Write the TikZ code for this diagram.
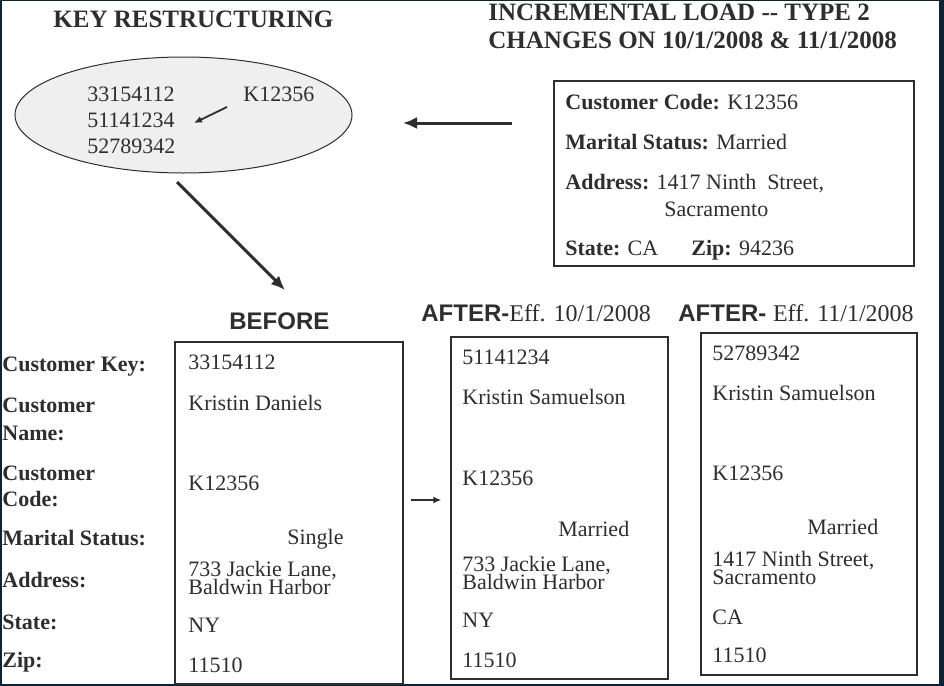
\documentclass[tikz,border=0pt]{standalone}
\usepackage{fontspec}
\setmainfont{Liberation Serif}
\setsansfont{Liberation Sans}
\usetikzlibrary{shapes.geometric,arrows.meta}
\definecolor{frameblue}{HTML}{0E2236}
\definecolor{inkgray}{HTML}{2E2E2E}
\definecolor{ovalgray}{HTML}{EFEFEF}

\begin{document}
\begin{tikzpicture}[x=0.5pt,y=-0.5pt,
  every node/.style={inner sep=0pt, text=inkgray, font=\fontsize{11}{13.5}\selectfont},
  val/.style={anchor=base west},
  lbl/.style={anchor=base west, font=\fontsize{11}{13.5}\selectfont\bfseries},
  headtitle/.style={anchor=base west, font=\fontsize{12.5}{14}\selectfont\bfseries},
  headsans/.style={anchor=base west, font=\fontsize{12}{14}\selectfont\sffamily\bfseries},
  recbox/.style={rectangle, draw=inkgray, line width=0.6pt},
  fatarrow/.style={draw=inkgray, line width=1.5pt, -{Latex[length=7pt,width=6pt]}},
  thinarrow/.style={draw=inkgray, line width=0.9pt, -{Latex[length=4pt,width=3.5pt]}}]

  \useasboundingbox (0,0) rectangle (944,686);
  \fill[frameblue] (0,0) rectangle (944,686);
  \fill[white] (2,1) rectangle (939,684);

  % top left: key restructuring
  \node[headtitle] (keyTitle) at (53,27) {KEY RESTRUCTURING};
  \node[ellipse, draw=inkgray, fill=ovalgray, line width=0.5pt, minimum width=168.5pt, minimum height=58pt] (keyOval) at (183.5,115) {};
  \node[val] (keyOne)   at (87,101)  {33154112};
  \node[val] (keyTwo)   at (87,127)  {51141234};
  \node[val] (keyThree) at (87,153)  {52789342};
  \node[val] (keyCode)  at (243,101) {K12356};
  \coordinate (codeTail) at (227,107);
  \coordinate (codeTip)  at (194,123);
  \draw[thinarrow] (codeTail) -- (codeTip);

  % top right: incremental load
  \node[headtitle] (incrTitleA) at (488,20) {INCREMENTAL LOAD -{}- TYPE 2};
  \node[headtitle] (incrTitleB) at (488,48) {CHANGES ON 10/1/2008 \& 11/1/2008};
  \node[recbox, minimum width=180pt, minimum height=92.5pt] (incrBox) at (734,173.5) {};
  \node[val] (incrCode)    at (565,109) {\textbf{Customer Code:} K12356};
  \node[val] (incrStatus)  at (565,149) {\textbf{Marital Status:} Married};
  \node[val] (incrAddrA)   at (565,189) {\textbf{Address:} 1417 Ninth~ Street,};
  \node[val] (incrAddrB)   at (664,216) {Sacramento};
  \node[val] (incrState)   at (565,255) {\textbf{State:} CA};
  \node[val] (incrZip)     at (691,255) {\textbf{Zip:} 94236};

  \coordinate (loadTail) at (512,123);
  \coordinate (loadTip)  at (403,123);
  \draw[fatarrow] (loadTail) -- (loadTip);
  \coordinate (ovalTail) at (177,182);
  \coordinate (beforeTip) at (285,290);
  \draw[fatarrow] (ovalTail) -- (beforeTip);

  % row labels
  \node[lbl] (rowKey)     at (2,371) {Customer Key:};
  \node[lbl] (rowNameA)   at (2,412) {Customer};
  \node[lbl] (rowNameB)   at (2,440) {Name:};
  \node[lbl] (rowCodeA)   at (2,480) {Customer};
  \node[lbl] (rowCodeB)   at (2,506) {Code:};
  \node[lbl] (rowStatus)  at (2,545) {Marital Status:};
  \node[lbl] (rowAddr)    at (2,587) {Address:};
  \node[lbl] (rowState)   at (2,629) {State:};
  \node[lbl] (rowZip)     at (2,667) {Zip:};

  % before
  \node[headsans] (beforeHead) at (229,329) {BEFORE};
  \node[recbox, minimum width=114pt, minimum height=171pt] (beforeBox) at (289,513) {};
  \node[val] (beforeKey)    at (188,369) {33154112};
  \node[val] (beforeName)   at (188,410) {Kristin Daniels};
  \node[val] (beforeCode)   at (188,490) {K12356};
  \node[val] (beforeStatus) at (287,544) {Single};
  \node[val] (beforeAddrA)  at (188,576) {733 Jackie Lane,};
  \node[val] (beforeAddrB)  at (188,594) {Baldwin Harbor};
  \node[val] (beforeState)  at (188,632) {NY};
  \node[val] (beforeZip)    at (188,672) {11510};

  % after 10/1/2008
  \node[headsans] (afterOneHead) at (421,321) {AFTER-\rmfamily\mdseries\fontsize{12}{14}\selectfont Eff. 10/1/2008};
  \node[recbox, minimum width=108.5pt, minimum height=171pt] (afterOneBox) at (559.5,508) {};
  \node[val] (afterOneKey)    at (462,364) {51141234};
  \node[val] (afterOneName)   at (462,404) {Kristin Samuelson};
  \node[val] (afterOneCode)   at (462,485) {K12356};
  \node[val] (afterOneStatus) at (558,536) {Married};
  \node[val] (afterOneAddrA)  at (462,571) {733 Jackie Lane,};
  \node[val] (afterOneAddrB)  at (462,589) {Baldwin Harbor};
  \node[val] (afterOneState)  at (462,627) {NY};
  \node[val] (afterOneZip)    at (462,667) {11510};

  % after 11/1/2008
  \node[headsans] (afterTwoHead) at (678,321) {AFTER- \rmfamily\mdseries\fontsize{12}{14}\selectfont Eff. 11/1/2008};
  \node[recbox, minimum width=108pt, minimum height=171pt] (afterTwoBox) at (809,504) {};
  \node[val] (afterTwoKey)    at (712,360) {52789342};
  \node[val] (afterTwoName)   at (712,400) {Kristin Samuelson};
  \node[val] (afterTwoCode)   at (712,480) {K12356};
  \node[val] (afterTwoStatus) at (807,534) {Married};
  \node[val] (afterTwoAddrA)  at (712,566) {1417 Ninth Street,};
  \node[val] (afterTwoAddrB)  at (712,584) {Sacramento};
  \node[val] (afterTwoState)  at (712,624) {CA};
  \node[val] (afterTwoZip)    at (712,662) {11510};

  \coordinate (arrowLevel) at (0,500);
  \draw[thinarrow, shorten <=3.5pt, shorten >=4.5pt] (beforeBox.east |- arrowLevel) -- (afterOneBox.west |- arrowLevel);
\end{tikzpicture}
\end{document}
